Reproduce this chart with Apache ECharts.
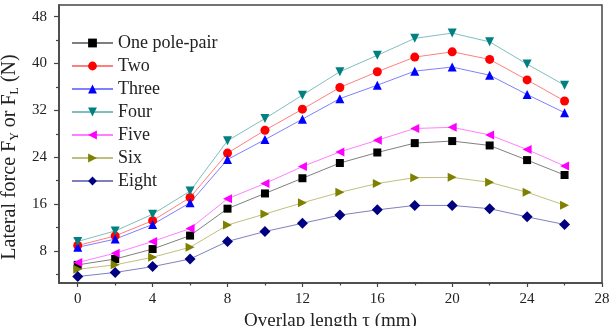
<!DOCTYPE html>
<html>
<head>
<meta charset="utf-8">
<script src="https://cdn.jsdelivr.net/npm/echarts@6/dist/echarts.min.js"></script>
<style>
  html, body { margin: 0; padding: 0; background: #fff; }
  #main { width: 613px; height: 326px; }
</style>
</head>
<body>
<div id="main"></div>
<script>
// overlap length (mm)
var overlap = [0, 2, 4, 6, 8, 10, 12, 14, 16, 18, 20, 22, 24, 26];

// lateral force per pole-pair count (N)
var onePolePair = [5.6, 6.6, 8.3, 10.6, 15.2, 17.8, 20.4, 23.0, 24.8, 26.4, 26.75, 26.0, 23.5, 20.95];
var two   = [8.9, 10.55, 13.15, 17.1, 24.7, 28.6, 32.2, 35.9, 38.6, 41.1, 42.0, 40.7, 37.2, 33.6];
var three = [8.6, 10.0, 12.5, 16.2, 23.6, 27.0, 30.5, 34.0, 36.3, 38.7, 39.4, 38.0, 34.7, 31.6];
var four  = [9.6, 11.4, 14.25, 18.2, 26.8, 30.6, 34.6, 38.6, 41.4, 44.3, 45.2, 43.7, 39.9, 36.3];
var five  = [6.0, 7.6, 9.6, 11.8, 16.9, 19.5, 22.4, 24.9, 26.9, 28.9, 29.1, 27.8, 25.3, 22.5];
var six   = [4.85, 5.6, 6.9, 8.6, 12.4, 14.3, 16.2, 18.0, 19.5, 20.5, 20.55, 19.7, 18.0, 15.8];
var eight = [3.6, 4.3, 5.3, 6.6, 9.6, 11.3, 12.7, 14.1, 15.0, 15.75, 15.75, 15.2, 13.8, 12.5];

var xTicks = [0, 4, 8, 12, 16, 20, 24, 28];
var xMinorTicks = [2, 6, 10, 14, 18, 22, 26];
var yTicks = [8, 16, 24, 32, 40, 48];
var yMinorTicks = [4, 12, 20, 28, 36, 44];

var font = 'Liberation Serif';

function pairs(ys) {
  return overlap.map(function (x, i) { return [x, ys[i]]; });
}

function mk(name, ys, color, symbol, rot, size) {
  return {
    name: name,
    type: 'line',
    data: pairs(ys),
    symbol: symbol,
    symbolSize: size,
    symbolRotate: rot,
    showAllSymbol: true,
    itemStyle: { color: color },
    lineStyle: { color: color, width: 1, opacity: 0.5 },
    emphasis: { disabled: true }
  };
}

var chart = echarts.init(document.getElementById('main'));
var axisColor = '#444';

chart.setOption({
  animation: false,
  backgroundColor: '#fff',
  textStyle: { fontFamily: font },
  grid: {
    left: 59, right: 11, top: 5, bottom: 43,
    containLabel: false, outerBoundsMode: 'none',
    show: true, borderColor: axisColor, borderWidth: 1.5, backgroundColor: 'transparent'
  },
  legend: {
    orient: 'vertical',
    left: 66, top: 29,
    itemWidth: 41, itemHeight: 11, itemGap: 5,
    textStyle: { fontFamily: font, fontSize: 18, color: '#222' },
    data: ['One pole-pair', 'Two', 'Three', 'Four', 'Five', 'Six', 'Eight']
  },
  xAxis: [{
    type: 'value', min: -1, max: 28,
    name: 'Overlap length \u03c4 (mm)', nameLocation: 'middle', nameGap: 29,
    nameTextStyle: { fontFamily: font, fontSize: 19, color: '#222' },
    axisLine: { onZero: false, lineStyle: { color: axisColor, width: 1.5 } },
    axisTick: { inside: false, length: 4, customValues: xTicks, lineStyle: { color: axisColor, width: 1.2 } },
    axisLabel: { customValues: xTicks, margin: 9, fontFamily: font, fontSize: 15, color: '#222' },
    splitLine: { show: false }
  }, {
    type: 'value', min: -1, max: 28, position: 'bottom',
    axisLine: { show: false, onZero: false },
    axisTick: { length: 2.5, customValues: xMinorTicks, lineStyle: { color: axisColor, width: 1.2 } },
    axisLabel: { show: false },
    splitLine: { show: false }
  }],
  yAxis: [{
    type: 'value', min: 2.5, max: 50,
    name: 'Lateral force F{s|Y} or F{s|L} (N)', nameLocation: 'middle', nameGap: 36,
    nameTextStyle: {
      fontFamily: font, fontSize: 20, color: '#222', padding: [0, 26, 0, 0],
      rich: { s: { fontFamily: font, fontSize: 12, color: '#222', verticalAlign: 'bottom', padding: [10, 0, 0, 0] } }
    },
    axisLine: { show: true, onZero: false, lineStyle: { color: axisColor, width: 1.5 } },
    axisTick: { show: true, length: 5, customValues: yTicks, lineStyle: { color: axisColor, width: 1.2 } },
    axisLabel: { customValues: yTicks, margin: 12, fontFamily: font, fontSize: 15, color: '#222' },
    splitLine: { show: false }
  }, {
    type: 'value', min: 2.5, max: 50, position: 'left',
    axisLine: { show: false, onZero: false },
    axisTick: { show: true, length: 3, customValues: yMinorTicks, lineStyle: { color: axisColor, width: 1.2 } },
    axisLabel: { show: false },
    splitLine: { show: false }
  }],
  series: [
    mk('One pole-pair', onePolePair, '#000000', 'rect', 0, 8),
    mk('Two', two, '#ff0000', 'circle', 0, 9),
    mk('Three', three, '#0000ff', 'triangle', 0, 9),
    mk('Four', four, '#008080', 'triangle', 180, 9),
    mk('Five', five, '#ff00ff', 'triangle', 90, 9),
    mk('Six', six, '#808000', 'triangle', -90, 9),
    mk('Eight', eight, '#000080', 'diamond', 0, 11)
  ]
});
</script>
</body>
</html>
